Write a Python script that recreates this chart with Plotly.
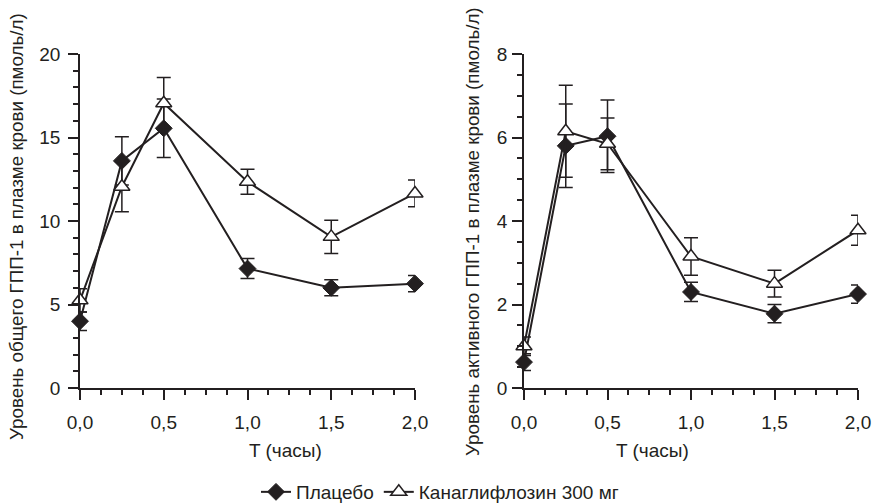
import plotly.graph_objects as go

time_h = [0.0, 0.25, 0.5, 1.0, 1.5, 2.0]

total_placebo = [4.0, 13.6, 15.55, 7.15, 6.0, 6.25]
total_placebo_err = [0.55, 1.45, 1.75, 0.6, 0.48, 0.48]
total_cana = [5.25, 12.05, 17.05, 12.35, 9.05, 11.65]
total_cana_err = [0.7, 1.5, 1.55, 0.75, 1.0, 0.8]

active_placebo = [0.62, 5.8, 6.03, 2.3, 1.78, 2.25]
active_placebo_err = [0.2, 1.0, 0.87, 0.23, 0.22, 0.22]
active_cana = [1.0, 6.15, 5.85, 3.15, 2.5, 3.78]
active_cana_err = [0.22, 1.1, 0.62, 0.45, 0.32, 0.36]

series_names = ["Плацебо", "Канаглифлозин 300 мг"]
x_title = "T (часы)"
y_title_left = "Уровень общего ГПП-1 в плазме крови (пмоль/л)"
y_title_right = "Уровень активного ГПП-1 в плазме крови (пмоль/л)"

INK = "#231f20"
FONT = "Liberation Sans, Arial, sans-serif"

fig = go.Figure()

def add_pair(xa, ya, pl, ple, ca, cae, show):
    fig.add_trace(go.Scatter(
        x=time_h, y=pl, mode="lines+markers", name=series_names[0],
        xaxis=xa, yaxis=ya, showlegend=show, legendrank=1,
        line=dict(color=INK, width=2),
        marker=dict(symbol="diamond", size=13, color=INK, line=dict(color=INK, width=1)),
        error_y=dict(type="data", array=ple, visible=True, color=INK, thickness=1.5, width=7),
        cliponaxis=False,
    ))
    fig.add_trace(go.Scatter(
        x=time_h, y=ca, mode="lines+markers", name=series_names[1],
        xaxis=xa, yaxis=ya, showlegend=show, legendrank=2,
        line=dict(color=INK, width=2),
        marker=dict(symbol="triangle-up", size=14, color="white", line=dict(color=INK, width=1.5)),
        error_y=dict(type="data", array=cae, visible=True, color=INK, thickness=1.5, width=7),
        cliponaxis=False,
    ))

add_pair("x", "y", total_placebo, total_placebo_err, total_cana, total_cana_err, True)
add_pair("x2", "y2", active_placebo, active_placebo_err, active_cana, active_cana_err, False)

H = 504
W = 878
ytop = 1 - 54 / H
ybot = 1 - 388 / H

common_x = dict(
    range=[0, 2], dtick=0.5, tick0=0, tickformat=".1f", automargin=False,
    showline=True, linecolor=INK, linewidth=1.5,
    ticks="outside", ticklen=10, tickwidth=1.5, tickcolor=INK,
    showgrid=False, zeroline=False, ticklabelstandoff=6,
    tickfont=dict(family=FONT, size=19, color=INK),
    minor=dict(dtick=0.125, tick0=0, ticks="outside", ticklen=5, tickwidth=1.5, tickcolor=INK, showgrid=False),
)
common_y = dict(
    showline=True, linecolor=INK, linewidth=1.5, automargin=False,
    ticks="outside", ticklen=10, tickwidth=1.5, tickcolor=INK,
    showgrid=False, zeroline=False,
    tickfont=dict(family=FONT, size=19, color=INK),
)

fig.update_layout(
    width=W, height=H,
    margin=dict(l=0, r=0, t=0, b=0, autoexpand=False),
    paper_bgcolor="white", plot_bgcolor="white",
    separators=", ",
    font=dict(family=FONT, size=16, color=INK),
    xaxis=dict(domain=[80 / W, 415 / W], anchor="y", **common_x),
    xaxis2=dict(domain=[524 / W, 858 / W], anchor="y2", **common_x),
    yaxis=dict(domain=[ybot, ytop], anchor="x", range=[0, 20], dtick=5, tick0=0,
               minor=dict(dtick=1, tick0=0, ticks="outside", ticklen=5, tickwidth=1.5, tickcolor=INK, showgrid=False),
               ticklabelstandoff=4, **common_y),
    yaxis2=dict(domain=[ybot, ytop], anchor="x2", range=[0, 8], dtick=2, tick0=0,
                minor=dict(dtick=0.5, tick0=0, ticks="outside", ticklen=5, tickwidth=1.5, tickcolor=INK, showgrid=False),
                ticklabelstandoff=1, **common_y),
    showlegend=True,
    legend=dict(orientation="h", x=440 / W, xanchor="center", y=1 - 492 / H, yanchor="middle",
                font=dict(family=FONT, size=19, color=INK), bgcolor="rgba(0,0,0,0)",
                itemwidth=30, traceorder="normal"),
    annotations=[
        dict(text=x_title, x=247 / W, y=1 - 450 / H, xref="paper", yref="paper",
             showarrow=False, font=dict(family=FONT, size=19, color=INK), yanchor="middle"),
        dict(text=x_title, x=691 / W, y=1 - 450 / H, xref="paper", yref="paper",
             showarrow=False, font=dict(family=FONT, size=19, color=INK), yanchor="middle"),
        dict(text=y_title_left, x=17 / W, y=1 - 227 / H, xref="paper", yref="paper",
             textangle=-90, showarrow=False, font=dict(family=FONT, size=18.8, color=INK),
             xanchor="center", yanchor="middle"),
        dict(text=y_title_right, x=473 / W, y=1 - 231 / H, xref="paper", yref="paper",
             textangle=-90, showarrow=False, font=dict(family=FONT, size=18.8, color=INK),
             xanchor="center", yanchor="middle"),
    ],
)

fig.write_html("out.html", config={"displayModeBar": False},
               post_script="document.body.style.margin='0';document.body.style.padding='0';")
